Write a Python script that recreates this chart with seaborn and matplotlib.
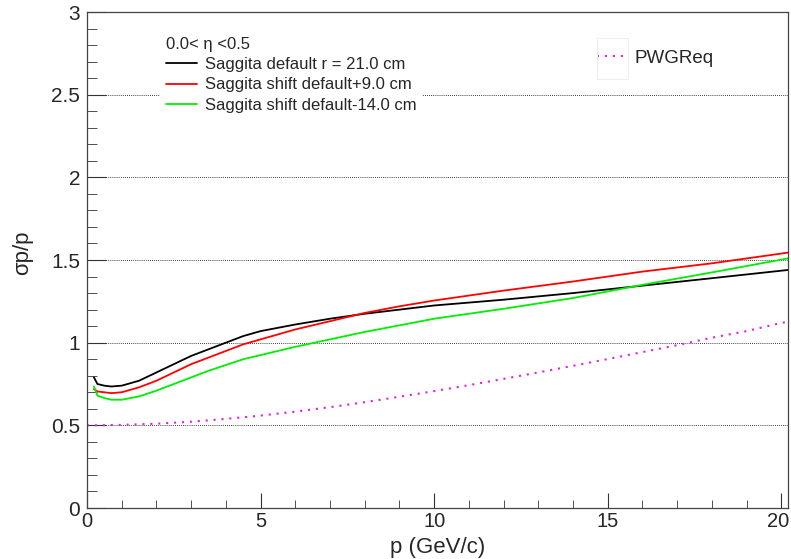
import matplotlib
matplotlib.use("Agg")
import matplotlib.pyplot as plt
import matplotlib.transforms as mtransforms
from matplotlib.ticker import MultipleLocator
from matplotlib.patches import Rectangle
import seaborn as sns
import pandas as pd

sns.set_style("ticks")
plt.rcParams['font.family'] = ['Liberation Sans', 'DejaVu Sans']

# momentum points (GeV/c) and relative resolution for each configuration
p_saggita = [0.2, 0.3, 0.5, 0.7, 1.0, 1.5, 2.0, 2.5, 3.0, 3.5, 4.0, 4.5,
             5, 6, 7, 8, 9, 10, 12, 14, 16, 18, 20.2]
res_default = [0.79, 0.75, 0.74, 0.735, 0.74, 0.77, 0.82, 0.87, 0.92, 0.96,
               1.00, 1.04, 1.07, 1.11, 1.145, 1.175, 1.20, 1.225, 1.26, 1.30,
               1.345, 1.39, 1.44]
res_plus9 = [0.72, 0.705, 0.70, 0.695, 0.70, 0.73, 0.77, 0.82, 0.87, 0.91,
             0.95, 0.99, 1.02, 1.08, 1.13, 1.18, 1.22, 1.255, 1.315, 1.37,
             1.43, 1.48, 1.545]
res_minus14 = [0.735, 0.68, 0.665, 0.655, 0.655, 0.675, 0.71, 0.75, 0.79,
               0.83, 0.865, 0.90, 0.925, 0.975, 1.02, 1.065, 1.105, 1.145,
               1.205, 1.27, 1.35, 1.425, 1.51]

p_req = [0, 0.5, 1, 2, 3, 4, 5, 6, 7, 8, 9, 10, 11, 12, 13, 14, 15, 16, 17,
         18, 19, 20, 20.2]
res_req = [0.5, 0.501, 0.503, 0.510, 0.522, 0.539, 0.559, 0.583, 0.610,
           0.640, 0.673, 0.707, 0.743, 0.781, 0.820, 0.860, 0.901, 0.943,
           0.985, 1.03, 1.07, 1.12, 1.125]

labels = ["Saggita default r = 21.0 cm",
          "Saggita shift default+9.0 cm",
          "Saggita shift default-14.0 cm"]
colors = ["black", "#ff0000", "#00ee00"]

x_ticks = [0, 5, 10, 15, 20]
y_ticks = [0, 0.5, 1, 1.5, 2, 2.5, 3]

W, H = 791, 559
fig = plt.figure(figsize=(W / 100, H / 100), dpi=100)
ax = fig.add_axes([0.110, 0.0912, 0.8865, 0.8873])

for y in y_ticks[1:]:
    ax.axhline(y, color="black", lw=0.6, ls=(0, (1, 1.5)), zorder=0)

handles = []
for vals, lab, col in zip([res_default, res_plus9, res_minus14], labels, colors):
    df = pd.DataFrame({"p": p_saggita, "res": vals})
    sns.lineplot(data=df, x="p", y="res", ax=ax, color=col, lw=1.3,
                 label=lab, legend=False)
    handles.append(ax.lines[-1])

df_req = pd.DataFrame({"p": p_req, "res": res_req})
sns.lineplot(data=df_req, x="p", y="res", ax=ax, color="#dd22dd", lw=1.5,
             ls=(0, (1, 2.8)), legend=False)
req_line = ax.lines[-1]

ax.set_xlim(0, 20.2)
ax.set_ylim(0, 3)
ax.set_xticks(x_ticks)
ax.set_xticklabels([str(v) for v in x_ticks])
ax.set_yticks(y_ticks)
ax.set_yticklabels(["0", "0.5", "1", "1.5", "2", "2.5", "3"])
ax.xaxis.set_minor_locator(MultipleLocator(1))
ax.yaxis.set_minor_locator(MultipleLocator(0.1))
ax.tick_params(axis="both", which="both", direction="in", top=False,
               right=False, color="#333333")
ax.tick_params(axis="y", labelsize=15)
ax.tick_params(axis="x", labelsize=14.5)
ax.tick_params(axis="x", which="major", length=11, pad=3)
ax.tick_params(axis="x", which="minor", length=5.5)
ax.tick_params(axis="y", which="major", length=14, pad=5)
ax.tick_params(axis="y", which="minor", length=7)
for s in ax.spines.values():
    s.set_color("#444444")
    s.set_linewidth(0.9)

# keep the last x tick label inside the canvas
last = ax.get_xticklabels()[-1]
last.set_transform(last.get_transform() +
                   mtransforms.ScaledTranslation(-3 / 100, 0, fig.dpi_scale_trans))

ax.set_xlabel("p (GeV/c)", fontsize=16, labelpad=4)
ax.set_ylabel("σp/p", fontsize=16)
ax.yaxis.set_label_coords(-0.077, 0.515)

# legend for the three saggita configurations, anchored in figure pixels
leg = ax.legend(handles, labels, loc="upper left",
                bbox_to_anchor=(160 / W, 1 - 31 / H),
                bbox_transform=fig.transFigure, frameon=True,
                facecolor="white", edgecolor="none", framealpha=1,
                fancybox=False,
                fontsize=12, title="0.0< η <0.5", title_fontsize=12,
                handlelength=1.85, handletextpad=0.5, labelspacing=0.32,
                borderpad=0.35, borderaxespad=0)
leg._legend_box.align = "left"
leg.set_zorder(5)
ax.add_artist(leg)

# requirement legend with the small box drawn around its line sample
fig.add_artist(Rectangle((597 / W, 1 - 79 / H), 31 / W, 41 / H,
                         transform=fig.transFigure, fill=False,
                         edgecolor="#eeeeee", lw=0.8))
leg2 = ax.legend([req_line], ["PWGReq"], loc="center left",
                 bbox_to_anchor=(597 / W, 1 - 58 / H),
                 bbox_transform=fig.transFigure, frameon=False, fontsize=13.5,
                 handlelength=1.65, handletextpad=0.37, borderpad=0,
                 borderaxespad=0)

fig.savefig("out.png", dpi=100)
